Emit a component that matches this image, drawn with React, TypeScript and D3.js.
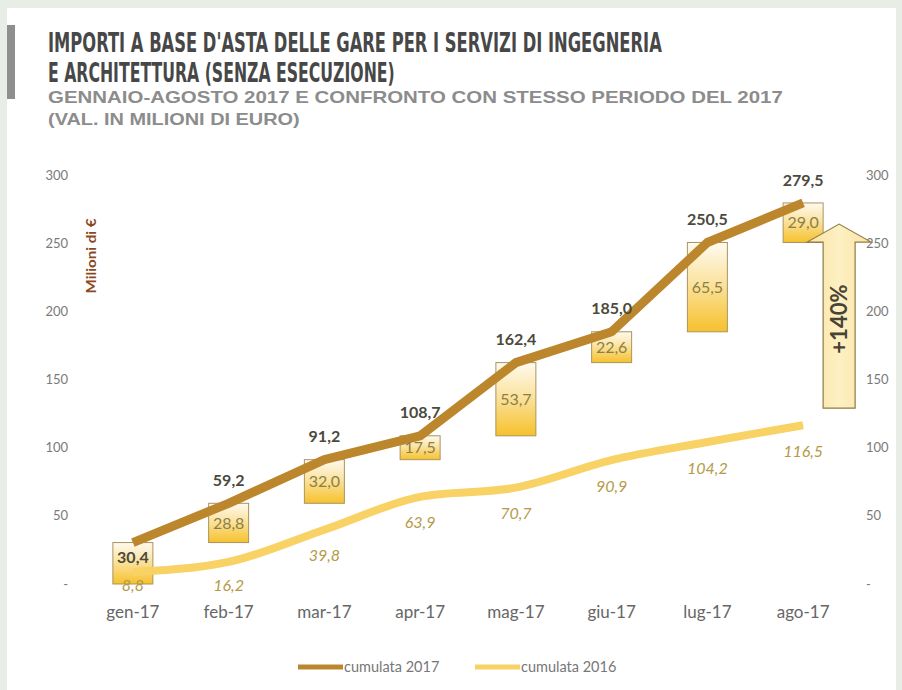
import React, { useLayoutEffect, useRef, useState } from "react";
import * as d3 from "d3";

const months = ["gen-17", "feb-17", "mar-17", "apr-17", "mag-17", "giu-17", "lug-17", "ago-17"];
const cum2017 = [30.4, 59.2, 91.2, 108.7, 162.4, 185.0, 250.5, 279.5];
const cum2016 = [8.8, 16.2, 39.8, 63.9, 70.7, 90.9, 104.2, 116.5];
const monthly2017 = [30.4, 28.8, 32.0, 17.5, 53.7, 22.6, 65.5, 29.0];
const yTicks = [0, 50, 100, 150, 200, 250, 300];
const arrowFrom = 129;
const arrowTo = 264;
const arrowLabel = "+140%";
const seriesNames = ["cumulata 2017", "cumulata 2016"];
const titleLines = [
  "IMPORTI A BASE D'ASTA DELLE GARE PER I SERVIZI DI INGEGNERIA",
  "E ARCHITETTURA (SENZA ESECUZIONE)",
];
const subtitleLines = [
  "GENNAIO-AGOSTO 2017 E CONFRONTO CON STESSO PERIODO DEL 2017",
  "(VAL. IN MILIONI DI EURO)",
];

const fmt = (v: number) => v.toFixed(1).replace(".", ",");

function FitText(props: { x: number; y: number; width: number; children: string; [k: string]: any }) {
  const { x, y, width, children, ...rest } = props;
  const ref = useRef<SVGTextElement>(null);
  const [sx, setSx] = useState(1);
  useLayoutEffect(() => {
    if (ref.current) {
      const w = ref.current.getComputedTextLength();
      if (w > 0) setSx(width / w);
    }
  }, [width, children]);
  return (
    <text ref={ref} transform={`translate(${x},${y}) scale(${sx},1)`} {...rest}>{children}</text>
  );
}

export default function App() {
  const W = 902, H = 690;
  const x = d3.scaleBand<string>().domain(months).range([85, 851]);
  const cx = (m: string) => (x(m) as number) + x.bandwidth() / 2;
  const y = d3.scaleLinear().domain([0, 300]).range([584, 175]);
  const c2017 = "#bc872c";
  const c2016 = "#f8d264";
  const font = "Lato, 'Open Sans', sans-serif";

  const line17 = d3.line<number>().x((_, i) => cx(months[i])).y((d) => y(d)).curve(d3.curveLinear);
  const line16 = d3.line<number>().x((_, i) => cx(months[i])).y((d) => y(d)).curve(d3.curveMonotoneX);

  const boxW = 40;
  const ax = cx(months[7]) + 36;
  const bodyHalf = 16, headHalf = 32, headH = 18;
  const yTop = y(arrowTo), yBot = y(arrowFrom);
  const arrowPath = `M${ax - bodyHalf},${yBot} L${ax - bodyHalf},${yTop + headH} L${ax - headHalf},${yTop + headH} L${ax},${yTop} L${ax + headHalf},${yTop + headH} L${ax + bodyHalf},${yTop + headH} L${ax + bodyHalf},${yBot} Z`;

  const titleFont = "'DejaVu Sans Condensed', 'Liberation Sans Narrow', sans-serif";
  const subFont = "'Liberation Sans', Arial, sans-serif";

  return (
    <div style={{ position: "fixed", left: 0, top: 0, width: W, height: H }}>
      <svg width={W} height={H} style={{ display: "block" }}>
        <defs>
          <linearGradient id="boxGrad" x1="0" y1="0" x2="0" y2="1">
            <stop offset="0%" stopColor="#fffaf0" />
            <stop offset="45%" stopColor="#fbe3a0" />
            <stop offset="100%" stopColor="#f6c12c" />
          </linearGradient>
          <linearGradient id="arrowGrad" x1="0" y1="0" x2="1" y2="0">
            <stop offset="0%" stopColor="#fbe3a0" />
            <stop offset="50%" stopColor="#fdf0c4" />
            <stop offset="100%" stopColor="#fbe3a0" />
          </linearGradient>
        </defs>
        <rect x={0} y={0} width={W} height={H} fill="#e8ede5" />
        <rect x={7} y={8} width={889} height={H - 8} fill="#ffffff" />
        <rect x={7} y={25} width={8} height={74} fill="#8e8e8e" />

        <FitText x={48} y={52} width={614} fontFamily={titleFont} fontWeight="bold" fontSize={27} fill="#474747">{titleLines[0]}</FitText>
        <FitText x={48} y={82} width={347} fontFamily={titleFont} fontWeight="bold" fontSize={27} fill="#474747">{titleLines[1]}</FitText>
        <FitText x={48} y={103} width={735} fontFamily={subFont} fontWeight="bold" fontSize={17} fill="#8c8c8c">{subtitleLines[0]}</FitText>
        <FitText x={48} y={125} width={252} fontFamily={subFont} fontWeight="bold" fontSize={17} fill="#8c8c8c">{subtitleLines[1]}</FitText>

        {yTicks.map((t) => (
          <g key={"t" + t} fontFamily={font} fontSize={13} fill="#7a7a7a">
            <text x={68} y={y(t)} dy="0.35em" textAnchor="end">{t === 0 ? "-" : t}</text>
            <text x={866} y={y(t)} dy="0.35em" textAnchor="start">{t === 0 ? "-" : t}</text>
          </g>
        ))}
        <text transform={`translate(96,256) rotate(-90)`} textAnchor="middle" fontFamily={font} fontWeight="bold" fontSize={13} fill="#8b4a1e" textLength={75} lengthAdjust="spacingAndGlyphs">Milioni di €</text>

        {months.map((m) => (
          <text key={"x" + m} x={cx(m)} y={618} textAnchor="middle" fontFamily={font} fontSize={17} fill="#666">{m}</text>
        ))}

        {months.map((m, i) => {
          const top = y(cum2017[i]);
          const bot = y(cum2017[i] - monthly2017[i]);
          return (
            <rect key={"b" + m} x={cx(m) - boxW / 2} y={top} width={boxW} height={bot - top} fill="url(#boxGrad)" stroke="#a89460" strokeWidth={1} />
          );
        })}

        <path d={line16(cum2016) || ""} fill="none" stroke={c2016} strokeWidth={8} strokeLinejoin="round" strokeLinecap="butt" />
        <path d={line17(cum2017) || ""} fill="none" stroke={c2017} strokeWidth={9} strokeLinejoin="round" strokeLinecap="butt" />

        {months.map((m, i) => {
          if (i === 0) return null;
          const top = y(cum2017[i]);
          const bot = y(cum2017[i] - monthly2017[i]);
          return (
            <text key={"bl" + m} x={cx(m)} y={(top + bot) / 2} dy="0.35em" textAnchor="middle" fontFamily={font} fontSize={16} fill="#8a7f48">{fmt(monthly2017[i])}</text>
          );
        })}

        {months.map((m, i) => (
          <text key={"l17" + m} x={cx(m)} y={i === 0 ? y(cum2017[i]) + 15 : y(cum2017[i]) - 23} dy="0.35em" textAnchor="middle" fontFamily={font} fontWeight="bold" fontSize={16} fill="#4b4a3c">{fmt(cum2017[i])}</text>
        ))}

        {months.map((m, i) => (
          <text key={"l16" + m} x={cx(m)} y={Math.min(y(cum2016[i]) + 26, y(0) + 1)} dy="0.35em" textAnchor="middle" fontFamily={font} fontStyle="italic" fontSize={16} fill="#b59a48">{fmt(cum2016[i])}</text>
        ))}

        <path d={arrowPath} fill="url(#arrowGrad)" stroke="#8d7c45" strokeWidth={1.2} />
        <text transform={`translate(${ax},${(yTop + headH + yBot) / 2 - 6}) rotate(-90)`} dy="0.35em" textAnchor="middle" fontFamily={font} fontWeight="bold" fontSize={22} fill="#4a4232">{arrowLabel}</text>

        <line x1={298} x2={343} y1={667} y2={667} stroke={c2017} strokeWidth={5} />
        <text x={344} y={667} dy="0.35em" fontFamily={font} fontSize={14.5} fill="#777">{seriesNames[0]}</text>
        <line x1={475} x2={520} y1={667} y2={667} stroke={c2016} strokeWidth={5} />
        <text x={521} y={667} dy="0.35em" fontFamily={font} fontSize={14.5} fill="#777">{seriesNames[1]}</text>
      </svg>
    </div>
  );
}
